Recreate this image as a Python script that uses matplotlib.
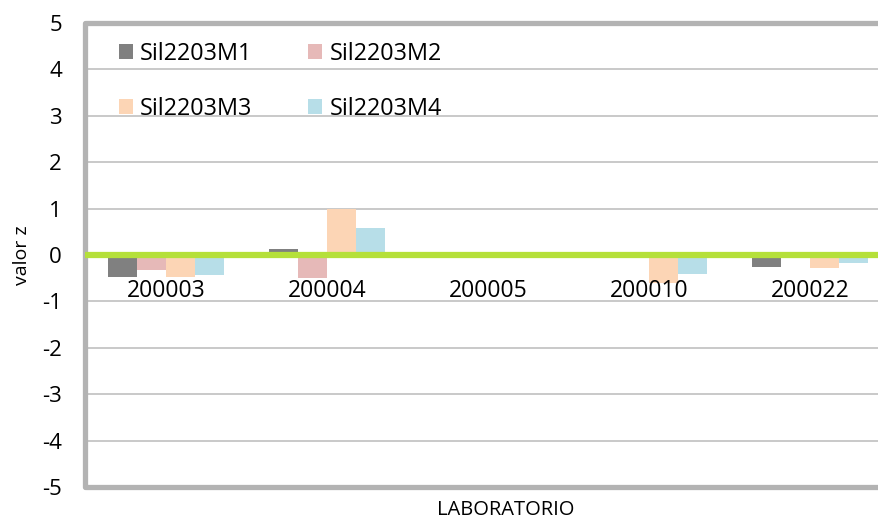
import matplotlib
matplotlib.use('Agg')
import numpy as np
import matplotlib.pyplot as plt

plt.rcParams['font.family'] = ['Open Sans', 'DejaVu Sans']
plt.rcParams['axes.unicode_minus'] = False

laboratorios = ['200003', '200004', '200005', '200010', '200022']
series = ['Sil2203M1', 'Sil2203M2', 'Sil2203M3', 'Sil2203M4']
m1 = [-0.47, 0.12, 0.0, 0.0, -0.25]
m2 = [-0.32, -0.49, 0.0, 0.0, 0.0]
m3 = [-0.47, 1.0, 0.0, -0.61, -0.27]
m4 = [-0.44, 0.59, 0.0, -0.41, -0.17]
valores = [m1, m2, m3, m4]
colores = ['#808080', '#e6b9b8', '#fcd5b5', '#b7dee8']

fig = plt.figure(figsize=(8.79, 5.22), dpi=100)
# el area de trazado sigue mas alla del borde derecho de la imagen
ax = fig.add_axes([85.5 / 879, 35 / 522, 805 / 879, 464 / 522])

x = np.arange(len(laboratorios))
ancho = 0.18
barras = []
for i, (nombre, vals, col) in enumerate(zip(series, valores, colores)):
    b = ax.bar(x + (i - 1.5) * ancho, vals, ancho, color=col, label=nombre, zorder=2)
    barras.append(b)

ax.axhline(0, color='#b5e03a', lw=4.5, zorder=3)

ax.set_xlim(-0.5, 4.5)
ax.set_ylim(-5, 5)
ax.set_yticks(range(-5, 6))
ax.set_xticks([])
ax.yaxis.grid(True, color='#c0c0c0', lw=1.2, zorder=0)
ax.set_axisbelow(True)
ax.tick_params(axis='y', length=0, pad=17, labelsize=16)

for s in ['left', 'top', 'bottom']:
    ax.spines[s].set_color('#b3b3b3')
    ax.spines[s].set_linewidth(3.8)
    ax.spines[s].set_capstyle('round')
ax.spines['right'].set_visible(False)

for i, lab in enumerate(laboratorios):
    ax.text(x[i], -0.905, lab, ha='center', va='baseline', fontsize=16.5, zorder=4)

ax.set_ylabel('valor z', fontsize=14, labelpad=8)
fig.text(506 / 879, 1 - 510 / 522, 'LABORATORIO', ha='center', va='center', fontsize=14.5)

# leyenda por filas: M1 M2 / M3 M4
orden = [0, 2, 1, 3]
ax.legend([barras[k] for k in orden], [series[k] for k in orden],
          ncol=2, loc='upper left', bbox_to_anchor=(0.0416, 0.96), frameon=False,
          fontsize=16.8, handlelength=0.6, handleheight=0.6, handletextpad=0.3,
          labelspacing=1.35, columnspacing=2.4, borderpad=0, borderaxespad=0)

fig.savefig('out.png', dpi=100)
